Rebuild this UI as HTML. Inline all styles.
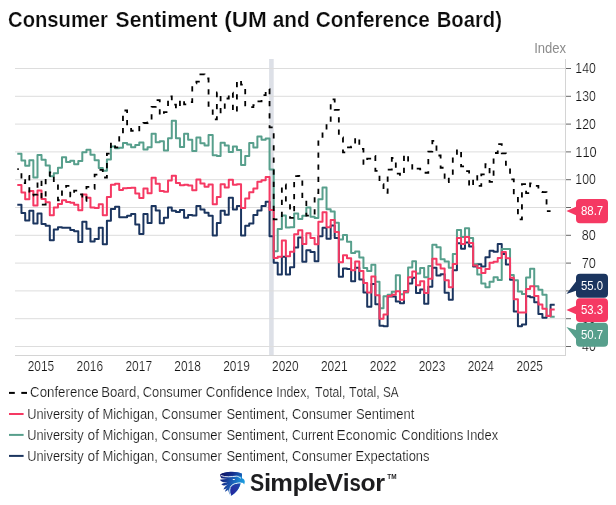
<!DOCTYPE html>
<html><head><meta charset="utf-8"><title>Consumer Sentiment</title>
<style>
html,body{margin:0;padding:0;background:#fff;}
body{width:616px;height:505px;overflow:hidden;font-family:"Liberation Sans",sans-serif;}
svg{display:block;will-change:transform;opacity:0.999}
text{font-family:"Liberation Sans",sans-serif;font-kerning:none;}
.ttl{font-size:22.3px;font-weight:bold;fill:#0c0c0c;stroke:#fff;stroke-width:0.22px;}
.ax{font-size:14px;fill:#141414;stroke:#fff;stroke-width:0.2px;}
.idx{font-size:14px;fill:#8c8c8c;}
.lb{font-size:12.4px;fill:#fff;}
.lg{font-size:14px;fill:#141414;stroke:#fff;stroke-width:0.2px;}
.sv{font-size:24.4px;font-weight:bold;fill:#1d1d1f;}
.tm{font-size:6.4px;font-weight:bold;fill:#1d1d1f;}
</style></head><body>
<svg width="616" height="505" viewBox="0 0 616 505">
<rect width="616" height="505" fill="#fff"/>
<text transform="translate(8.07 27.4) scale(0.9060 1)" class="ttl">Consumer</text><text transform="translate(115.61 27.4) scale(0.9457 1)" class="ttl">Sentiment</text><text transform="translate(224.29 27.4) scale(1.0117 1)" class="ttl">(UM</text><text transform="translate(272.70 27.4) scale(0.9352 1)" class="ttl">and</text><text transform="translate(315.85 27.4) scale(0.9298 1)" class="ttl">Conference</text><text transform="translate(436.66 27.4) scale(0.9093 1)" class="ttl">Board)</text>

<text transform="translate(534.20 53.1) scale(0.9325 1)" class="idx">Index</text>
<rect x="269.1" y="59" width="4.6" height="296.5" fill="#dde0e7"/>
<line x1="15" x2="565" y1="346.5" y2="346.5" stroke="#dddddd"/><line x1="566" x2="571" y1="346.5" y2="346.5" stroke="#666666"/>
<line x1="15" x2="565" y1="318.7" y2="318.7" stroke="#dddddd"/><line x1="566" x2="571" y1="318.7" y2="318.7" stroke="#666666"/>
<line x1="15" x2="565" y1="290.9" y2="290.9" stroke="#dddddd"/><line x1="566" x2="571" y1="290.9" y2="290.9" stroke="#666666"/>
<line x1="15" x2="565" y1="263.1" y2="263.1" stroke="#dddddd"/><line x1="566" x2="571" y1="263.1" y2="263.1" stroke="#666666"/>
<line x1="15" x2="565" y1="235.3" y2="235.3" stroke="#dddddd"/><line x1="566" x2="571" y1="235.3" y2="235.3" stroke="#666666"/>
<line x1="15" x2="565" y1="207.5" y2="207.5" stroke="#dddddd"/><line x1="566" x2="571" y1="207.5" y2="207.5" stroke="#666666"/>
<line x1="15" x2="565" y1="179.7" y2="179.7" stroke="#dddddd"/><line x1="566" x2="571" y1="179.7" y2="179.7" stroke="#666666"/>
<line x1="15" x2="565" y1="151.9" y2="151.9" stroke="#dddddd"/><line x1="566" x2="571" y1="151.9" y2="151.9" stroke="#666666"/>
<line x1="15" x2="565" y1="124.1" y2="124.1" stroke="#dddddd"/><line x1="566" x2="571" y1="124.1" y2="124.1" stroke="#666666"/>
<line x1="15" x2="565" y1="96.3" y2="96.3" stroke="#dddddd"/><line x1="566" x2="571" y1="96.3" y2="96.3" stroke="#666666"/>
<line x1="15" x2="565" y1="68.5" y2="68.5" stroke="#dddddd"/><line x1="566" x2="571" y1="68.5" y2="68.5" stroke="#666666"/>

<line x1="565.5" x2="565.5" y1="59" y2="356" stroke="#d4d4d4"/>
<line x1="15" x2="566" y1="355.5" y2="355.5" stroke="#d4d4d4"/>
<text transform="translate(582.03 351.2) scale(0.8827 1)" class="ax">40</text>
<text transform="translate(581.80 323.4) scale(0.8980 1)" class="ax">50</text>
<text transform="translate(581.67 295.6) scale(0.9068 1)" class="ax">60</text>
<text transform="translate(581.65 267.8) scale(0.9077 1)" class="ax">70</text>
<text transform="translate(581.76 240.0) scale(0.9007 1)" class="ax">80</text>
<text transform="translate(581.72 212.2) scale(0.9033 1)" class="ax">90</text>
<text transform="translate(575.37 184.4) scale(0.8733 1)" class="ax">100</text>
<text transform="translate(575.32 156.6) scale(0.9170 1)" class="ax">110</text>
<text transform="translate(575.37 128.8) scale(0.8733 1)" class="ax">120</text>
<text transform="translate(575.37 101.0) scale(0.8733 1)" class="ax">130</text>
<text transform="translate(575.37 73.2) scale(0.8733 1)" class="ax">140</text>

<text transform="translate(27.70 371) scale(0.8506 1)" class="ax">2015</text>
<text transform="translate(76.58 371) scale(0.8514 1)" class="ax">2016</text>
<text transform="translate(125.46 371) scale(0.8542 1)" class="ax">2017</text>
<text transform="translate(174.34 371) scale(0.8514 1)" class="ax">2018</text>
<text transform="translate(223.22 371) scale(0.8530 1)" class="ax">2019</text>
<text transform="translate(272.11 371) scale(0.8494 1)" class="ax">2020</text>
<text transform="translate(320.98 371) scale(0.8534 1)" class="ax">2021</text>
<text transform="translate(369.86 371) scale(0.8542 1)" class="ax">2022</text>
<text transform="translate(418.74 371) scale(0.8514 1)" class="ax">2023</text>
<text transform="translate(467.63 371) scale(0.8458 1)" class="ax">2024</text>
<text transform="translate(516.50 371) scale(0.8506 1)" class="ax">2025</text>

<path d="M17.30 204.72H21.45V213.06H25.19V220.57H29.34V210.84H33.35V223.62H37.50V213.62H41.51V223.90H45.66V225.85H49.80V240.30H53.81V229.46H57.96V227.24H61.97V227.79H66.12V227.79H70.27V230.02H74.14V231.13H78.29V241.97H82.30V221.68H86.45V228.63H90.46V241.42H94.61V238.91H98.75V227.79H102.77V244.20H106.91V220.84H110.92V208.89H115.07V206.67H119.22V217.23H122.96V217.23H127.11V215.84H131.12V213.89H135.27V224.46H139.28V233.91H143.43V213.89H147.57V223.07H151.59V206.11H155.73V210.56H159.74V223.35H163.89V217.79H168.04V207.50H171.78V210.84H175.93V211.95H179.94V210.00H184.09V217.79H188.10V215.01H192.25V215.56H196.39V206.11H200.40V209.45H204.55V212.78H208.56V215.84H212.71V235.58H216.86V223.07H220.60V210.84H224.75V214.73H228.76V197.77H232.91V209.45H236.92V206.11H241.06V235.58H245.21V225.85H249.22V223.62H253.37V215.01H257.38V210.56H261.53V206.11H265.67V201.66H269.55V236.13H273.70V262.82H277.71V274.50H281.86V256.71H285.87V274.50H290.02V267.27H294.16V247.53H298.18V237.52H302.32V261.71H306.33V250.31H310.48V251.98H314.63V261.15H318.37V236.13H322.52V227.79H326.53V238.64H330.68V225.57H334.69V238.08H338.84V276.72H342.98V268.38H346.99V268.94H351.14V281.17H355.15V267.83H359.30V279.50H363.45V292.57H367.19V306.75H371.34V283.95H375.35V304.24H379.50V325.65H383.51V326.21H387.65V296.46H391.80V296.46H395.81V301.46H399.96V303.13H403.97V291.18H408.12V283.39H412.26V277.83H416.01V293.12H420.16V289.51H424.17V303.69H428.31V286.73H432.33V267.83H436.47V275.61H440.62V274.22H444.63V292.85H448.78V299.80H452.79V270.33H456.94V243.36H461.08V248.64H464.96V242.53H469.11V246.42H473.12V266.44H477.27V264.21H481.28V266.44H485.43V257.26H489.57V250.87H493.58V251.70H497.73V243.92H501.74V253.93H505.89V264.49H510.04V279.78H513.78V311.47H517.93V326.21H521.94V324.54H526.09V296.18H530.10V297.29H534.24V302.30H538.39V313.97H542.40V317.87H546.55V315.92H550.56V304.80H554.71" fill="none" stroke="#1b355f" stroke-width="2" stroke-linejoin="round"/>
<path d="M17.30 153.85H21.45V160.52H25.19V165.80H29.34V160.24H33.35V177.48H37.50V154.96H41.51V159.68H45.66V165.52H49.80V176.36H53.81V173.31H57.96V167.75H61.97V157.18H66.12V161.91H70.27V160.80H74.14V164.13H78.29V161.07H82.30V152.18H86.45V149.68H90.46V154.68H94.61V160.24H98.75V168.02H102.77V170.80H106.91V159.41H110.92V146.62H115.07V148.29H119.22V147.73H122.96V143.00H127.11V144.39H131.12V147.17H135.27V144.95H139.28V142.45H143.43V149.40H147.57V147.17H151.59V133.83H155.73V142.17H159.74V141.34H163.89V150.51H168.04V138.28H171.78V120.76H175.93V138.28H179.94V146.90H184.09V133.83H188.10V139.67H192.25V151.07H196.39V137.44H200.40V143.28H204.55V145.51H208.56V134.94H212.71V155.24H216.86V156.07H220.60V142.73H224.75V145.51H228.76V151.90H232.91V146.62H236.92V149.95H241.06V164.97H245.21V156.07H249.22V143.00H253.37V147.45H257.38V136.61H261.53V139.67H265.67V138.56H269.55V169.41H273.70V251.15H277.71V228.91H281.86V215.56H285.87V227.52H290.02V227.24H294.16V213.62H298.18V218.90H302.32V215.84H306.33V207.50H310.48V216.67H314.63V218.06H318.37V199.16H322.52V187.48H326.53V209.17H330.68V211.39H334.69V222.79H338.84V239.47H342.98V235.02H346.99V241.69H351.14V253.09H355.15V251.42H359.30V257.54H363.45V268.10H367.19V270.88H371.34V264.77H375.35V281.73H379.50V308.14H383.51V296.18H387.65V294.79H391.80V291.73H395.81V275.33H399.96V294.24H403.97V292.57H408.12V267.55H412.26V261.15H416.01V273.39H420.16V268.10H424.17V277.28H428.31V265.88H432.33V244.75H436.47V247.25H440.62V259.21H444.63V261.43H448.78V267.83H452.79V253.93H456.94V230.02H461.08V236.97H464.96V228.35H469.11V238.08H473.12V264.21H477.27V274.50H481.28V283.39H485.43V287.29H489.57V281.73H493.58V277.28H497.73V280.06H501.74V248.92H505.89V248.92H510.04V275.05H513.78V280.34H517.93V291.46H521.94V293.96H526.09V277.56H530.10V268.66H534.24V286.17H538.39V289.79H542.40V294.79H546.55V315.64H550.56V316.75H554.71" fill="none" stroke="#579f8c" stroke-width="2" stroke-linejoin="round"/>
<path d="M17.30 184.98H21.45V192.49H25.19V199.16H29.34V191.10H33.35V205.55H37.50V190.54H41.51V198.88H45.66V202.22H49.80V215.28H53.81V207.50H57.96V203.89H61.97V200.27H66.12V201.94H70.27V202.77H74.14V204.72H78.29V210.28H82.30V194.43H86.45V197.77H90.46V207.50H94.61V208.06H98.75V204.16H102.77V215.28H106.91V196.94H110.92V184.70H115.07V183.87H119.22V189.99H122.96V188.32H127.11V188.04H131.12V187.76H135.27V193.60H139.28V198.05H143.43V188.60H147.57V193.32H151.59V177.75H155.73V183.87H159.74V191.10H163.89V191.65H168.04V180.53H171.78V175.81H175.93V183.04H179.94V185.26H184.09V184.70H188.10V185.54H192.25V190.26H196.39V179.42H200.40V183.59H204.55V186.65H208.56V184.43H212.71V204.16H216.86V196.94H220.60V184.15H224.75V187.48H228.76V179.70H232.91V184.70H236.92V184.15H241.06V208.06H245.21V198.60H249.22V192.21H253.37V188.60H257.38V181.65H261.53V180.26H265.67V176.92H269.55V210.00H273.70V258.10H277.71V256.71H281.86V240.58H285.87V256.15H290.02V251.70H294.16V234.19H298.18V230.30H302.32V243.92H306.33V233.35H310.48V238.08H314.63V244.20H318.37V221.68H322.52V212.23H326.53V227.24H330.68V220.01H334.69V231.96H338.84V262.27H342.98V255.32H346.99V258.37H351.14V270.33H355.15V261.43H359.30V270.88H363.45V283.12H367.19V292.57H371.34V276.44H375.35V295.35H379.50V318.70H383.51V314.53H387.65V295.90H391.80V294.79H395.81V291.18H399.96V299.80H403.97V291.73H408.12V277.28H412.26V271.44H416.01V285.34H420.16V281.17H424.17V293.12H428.31V278.67H432.33V258.65H436.47V264.49H440.62V268.38H444.63V280.34H448.78V287.29H452.79V263.93H456.94V238.08H461.08V243.92H464.96V236.97H469.11V243.08H473.12V265.60H477.27V268.10H481.28V273.11H485.43V268.94H489.57V262.82H493.58V261.71H497.73V258.10H501.74V251.98H505.89V258.37H510.04V277.83H513.78V299.24H517.93V312.58H521.94V312.58H526.09V288.95H530.10V286.17H534.24V295.90H538.39V304.52H542.40V308.69H546.55V315.92H550.56V309.53H554.71" fill="none" stroke="#f53963" stroke-width="2" stroke-linejoin="round"/>
<path d="M17.30 169.14H21.45V183.04H25.19V175.81H29.34V195.55H33.35V194.71H37.50V180.26H41.51V204.72H45.66V176.09H49.80V172.47H53.81V182.20H57.96V200.27H61.97V189.99H66.12V185.82H70.27V196.38H74.14V190.54H78.29V194.43H82.30V200.83H86.45V186.93H90.46V188.87H94.61V174.70H98.75V169.97H102.77V177.48H106.91V153.57H110.92V142.73H115.07V147.45H119.22V134.94H122.96V110.48H127.11V125.77H131.12V130.77H135.27V131.61H139.28V124.10H143.43V122.99H147.57V122.43H151.59V106.86H155.73V100.19H159.74V115.48H163.89V112.15H168.04V96.30H171.78V104.64H175.93V108.53H179.94V99.64H184.09V104.36H188.10V102.14H192.25V83.23H196.39V81.57H200.40V74.34H204.55V78.51H208.56V105.75H212.71V119.37H216.86V92.41H220.60V112.42H224.75V98.52H228.76V92.69H232.91V112.15H236.92V80.18H241.06V84.62H245.21V106.59H249.22V107.14H253.37V105.20H257.38V101.30H261.53V95.19H265.67V89.07H269.55V127.44H273.70V219.45H277.71V218.90H281.86V184.43H285.87V202.77H290.02V217.79H294.16V176.09H298.18V175.81H302.32V199.44H306.33V215.56H310.48V215.56H314.63V193.04H318.37V138.28H322.52V131.05H326.53V124.10H330.68V99.36H334.69V109.92H338.84V137.44H342.98V152.46H346.99V147.45H351.14V146.62H355.15V137.44H359.30V148.84H363.45V163.85H367.19V158.57H371.34V155.79H375.35V170.80H379.50V184.15H383.51V192.77H387.65V169.69H391.80V158.02H395.81V173.58H399.96V175.81H403.97V154.68H408.12V163.02H412.26V170.25H416.01V168.58H420.16V169.41H424.17V172.75H428.31V151.62H432.33V140.78H436.47V155.51H440.62V167.75H444.63V182.20H448.78V176.92H452.79V157.46H456.94V149.40H461.08V166.36H464.96V171.08H469.11V186.65H473.12V176.09H477.27V185.82H481.28V174.42H485.43V164.13H489.57V181.92H493.58V153.01H497.73V144.12H501.74V153.29H505.89V164.97H510.04V179.42H513.78V196.66H517.93V219.45H521.94V184.15H526.09V193.04H530.10V183.31H534.24V185.82H538.39V191.93H542.40V192.21H546.55V211.11H550.56" fill="none" stroke="#000" stroke-width="1.8" stroke-dasharray="5.25 6.85" stroke-dashoffset="3.75"/>
<path d="M580 199H604Q608 199 608 203V219.3Q608 223.3 604 223.3H580Q576 223.3 576 219.3V215.2L566.4 211L576 206.8V203Q576 199 580 199Z" fill="#f53963"/>
<text transform="translate(580.91 215.3) scale(0.9227 1)" class="lb">88.7</text>
<path d="M580 273.8H604Q608 273.8 608 277.8V293.7Q608 297.7 604 297.7H580Q576 297.7 576 293.7V290.8L566.4 294L576 281.5V277.8Q576 273.8 580 273.8Z" fill="#1b355f"/>
<text transform="translate(580.95 289.9) scale(0.9152 1)" class="lb">55.0</text>
<path d="M580 298.2H604Q608 298.2 608 302.2V318Q608 322 604 322H580Q576 322 576 318V314.2L566.4 310L576 305.8V302.2Q576 298.2 580 298.2Z" fill="#f53963"/>
<text transform="translate(580.94 314.3) scale(0.9177 1)" class="lb">53.3</text>
<path d="M580 322.7H604Q608 322.7 608 326.7V342.8Q608 346.8 604 346.8H580Q576 346.8 576 342.8V338.8L566.4 327L576 330V326.7Q576 322.7 580 322.7Z" fill="#579f8c"/>
<text transform="translate(580.94 338.9) scale(0.9212 1)" class="lb">50.7</text>

<line x1="9" x2="14.8" y1="392.9" y2="392.9" stroke="#000" stroke-width="2"/><line x1="21.3" x2="27" y1="392.9" y2="392.9" stroke="#000" stroke-width="2"/>
<text transform="translate(30.04 397.3) scale(0.9498 1)" class="lg">Conference</text><text transform="translate(101.22 397.3) scale(0.9398 1)" class="lg">Board,</text><text transform="translate(142.65 397.3) scale(0.9221 1)" class="lg">Consumer</text><text transform="translate(205.84 397.3) scale(0.9466 1)" class="lg">Confidence</text><text transform="translate(276.27 397.3) scale(0.8767 1)" class="lg">Index,</text><text transform="translate(314.93 397.3) scale(0.8717 1)" class="lg">Total,</text><text transform="translate(348.93 397.3) scale(0.8780 1)" class="lg">Total,</text><text transform="translate(382.97 397.3) scale(0.8381 1)" class="lg">SA</text>
<line x1="9" x2="23.6" y1="414.0" y2="414.0" stroke="#f53963" stroke-width="2"/>
<line x1="9" x2="23.6" y1="434.9" y2="434.9" stroke="#579f8c" stroke-width="2"/>
<line x1="9" x2="23.6" y1="455.9" y2="455.9" stroke="#1b355f" stroke-width="2"/>
<text transform="translate(27.21 418.5) scale(0.9179 1)" class="lg">University</text><text transform="translate(87.62 418.5) scale(0.9806 1)" class="lg">of</text><text transform="translate(102.44 418.5) scale(0.9268 1)" class="lg">Michigan,</text><text transform="translate(161.54 418.5) scale(0.9363 1)" class="lg">Consumer</text><text transform="translate(226.42 418.5) scale(0.9273 1)" class="lg">Sentiment,</text><text transform="translate(292.05 418.5) scale(0.9315 1)" class="lg">Consumer</text><text transform="translate(355.91 418.5) scale(0.9292 1)" class="lg">Sentiment</text>
<text transform="translate(27.21 439.6) scale(0.9179 1)" class="lg">University</text><text transform="translate(87.62 439.6) scale(0.9806 1)" class="lg">of</text><text transform="translate(102.44 439.6) scale(0.9268 1)" class="lg">Michigan,</text><text transform="translate(161.54 439.6) scale(0.9363 1)" class="lg">Consumer</text><text transform="translate(226.42 439.6) scale(0.9273 1)" class="lg">Sentiment,</text><text transform="translate(292.08 439.6) scale(0.8847 1)" class="lg">Current</text><text transform="translate(336.58 439.6) scale(0.9790 1)" class="lg">Economic</text><text transform="translate(401.34 439.6) scale(0.9377 1)" class="lg">Conditions</text><text transform="translate(466.61 439.6) scale(0.9203 1)" class="lg">Index</text>
<text transform="translate(27.21 460.7) scale(0.9179 1)" class="lg">University</text><text transform="translate(87.62 460.7) scale(0.9806 1)" class="lg">of</text><text transform="translate(102.44 460.7) scale(0.9268 1)" class="lg">Michigan,</text><text transform="translate(161.54 460.7) scale(0.9363 1)" class="lg">Consumer</text><text transform="translate(226.42 460.7) scale(0.9273 1)" class="lg">Sentiment,</text><text transform="translate(292.05 460.7) scale(0.9315 1)" class="lg">Consumer</text><text transform="translate(355.44 460.7) scale(0.9247 1)" class="lg">Expectations</text>

<defs>
<linearGradient id="g1" x1="220" y1="476" x2="245" y2="482" gradientUnits="userSpaceOnUse"><stop offset="0" stop-color="#121870"/><stop offset="0.45" stop-color="#1a55b0"/><stop offset="0.85" stop-color="#1b8fd6"/><stop offset="1" stop-color="#1c9fe2"/></linearGradient>
<linearGradient id="g2" x1="230" y1="496" x2="241" y2="483" gradientUnits="userSpaceOnUse"><stop offset="0" stop-color="#26219c"/><stop offset="1" stop-color="#2148ac"/></linearGradient>
<linearGradient id="g3" x1="220" y1="474" x2="242" y2="474" gradientUnits="userSpaceOnUse"><stop offset="0" stop-color="#0e1260"/><stop offset="0.6" stop-color="#14308f"/><stop offset="1" stop-color="#1a62b8"/></linearGradient>
</defs>
<g fill="url(#g1)">
<path d="M226.8 472.3C233 471.4 238.5 472.2 242 473.7L242 478.2C243.6 478.5 245 480 244.8 482L244.2 484.4C243.5 482.9 242 482.6 240.8 482.8C240 488 236 493 231 496.1C229.6 494.6 228.7 492.4 228.2 490C227.8 488 227.6 486 227.4 484L226.8 479Z"/>
<path d="M228.5 472.1C224.5 472.5 221.5 473.6 220.1 474.8C220.3 476.6 221 477.8 221.4 478.3C223.5 478.8 226 479 228.5 479.1Z"/>
<path d="M228.5 479.0C225 479.1 222 479.3 219.9 479.7C221.2 481.6 223.5 482.4 225.2 482.3C226.5 482.2 227.6 481.9 228.5 481.6Z"/>
<path d="M228.5 481.8C226 482.3 223.3 483.1 221.3 484.3C222.9 485.9 225.1 485.8 226.6 485.1C227.4 484.7 228 484.4 228.6 484.2Z"/>
<path d="M228.7 484.3C226.3 485.2 224.4 487 223.4 489.5C225.9 489.3 227.6 488 228.4 486.8L229.4 485.4Z"/>
<path d="M229.4 485.6C227.4 487.2 225.7 489.2 224.9 491.7C227.1 491 228.5 489.3 229.2 487.9L230 486.4Z"/>
</g>
<path d="M220.1 474.8C221.5 473.6 224.5 472.5 228.5 472.1C233 471.4 238.5 472.2 242 473.7L242 476.6C240 475.6 238.4 475.3 236.5 475.4C231 475.6 225 476.9 220.1 474.8Z" fill="url(#g3)"/>
<path d="M220.9 475.5C225.5 477.6 231 476.6 236.5 476.2C238 476.3 239.5 477.2 241 478.3" fill="none" stroke="#fff" stroke-width="0.85"/>
<path d="M230.7 495.8C229.3 491.5 229.5 488 231.3 485.8C233.5 483.6 237 483 240.8 482.9" fill="none" stroke="#fff" stroke-width="1"/>
<path d="M231 487.2C232.8 484.8 236 483.7 240.3 483.5C239.5 488 236 492.8 231.4 495.3C230.3 492.5 230.2 489.6 231 487.2Z" fill="url(#g2)"/>
<ellipse cx="233.8" cy="479.4" rx="1.2" ry="0.5" fill="#fff"/>

<text transform="translate(250.10 490.8) scale(0.8743 1)" class="sv">S</text><text transform="translate(263.91 490.8) scale(1.0614 1)" class="sv">i</text><text transform="translate(270.35 490.8) scale(1.0420 1)" class="sv">m</text><text transform="translate(292.55 490.8) scale(1.0429 1)" class="sv">p</text><text transform="translate(307.56 490.8) scale(1.0320 1)" class="sv">l</text><text transform="translate(313.55 490.8) scale(1.0479 1)" class="sv">e</text><text transform="translate(326.15 490.8) scale(1.0387 1)" class="sv">V</text><text transform="translate(342.79 490.8) scale(1.0172 1)" class="sv">i</text><text transform="translate(349.39 490.8) scale(0.8350 1)" class="sv">s</text><text transform="translate(360.54 490.8) scale(1.0111 1)" class="sv">o</text><text transform="translate(375.16 490.8) scale(1.0312 1)" class="sv">r</text>

<text transform="translate(387.23 478.8) scale(1.0059 1)" class="tm">TM</text>
</svg>
</body></html>
